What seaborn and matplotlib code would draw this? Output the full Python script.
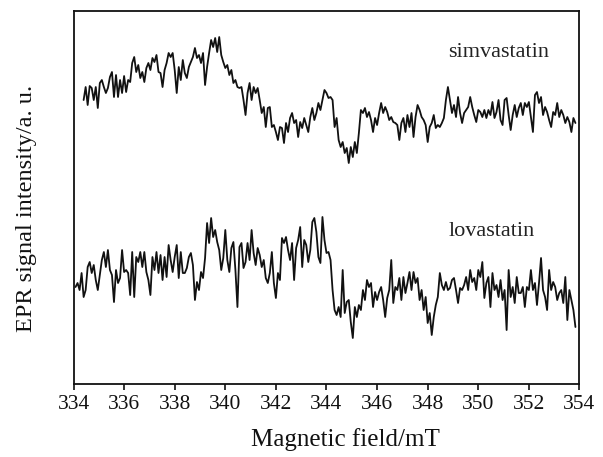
"""
plot.py

EPR spectra of simvastatin and lovastatin (signal intensity vs magnetic field).
Traces were read off the published figure point by point, so the noise is
hand-copied, not simulated.
"""

import matplotlib

matplotlib.use("Agg")  # no display, we only save the png
import matplotlib.pyplot as plt
import seaborn as sns

OUT_PATH = "out.png"

# magnetic field sweep in mT, one point every 0.08 mT
FIELD_MT = [
    334.08, 334.16, 334.24, 334.32, 334.40, 334.48, 334.56, 334.64, 334.72, 334.80, 334.88, 334.96,
    335.04, 335.12, 335.20, 335.28, 335.36, 335.44, 335.52, 335.60, 335.68, 335.76, 335.84, 335.92, 336.00,
    336.08, 336.16, 336.24, 336.32, 336.40, 336.48, 336.56, 336.64, 336.72, 336.80, 336.88, 336.96,
    337.04, 337.12, 337.20, 337.28, 337.36, 337.44, 337.52, 337.60, 337.68, 337.76, 337.84, 337.92, 338.00,
    338.08, 338.16, 338.24, 338.32, 338.40, 338.48, 338.56, 338.64, 338.72, 338.80, 338.88, 338.96,
    339.04, 339.12, 339.20, 339.28, 339.36, 339.44, 339.52, 339.60, 339.68, 339.76, 339.84, 339.92, 340.00,
    340.08, 340.16, 340.24, 340.32, 340.40, 340.48, 340.56, 340.64, 340.72, 340.80, 340.88, 340.96,
    341.04, 341.12, 341.20, 341.28, 341.36, 341.44, 341.52, 341.60, 341.68, 341.76, 341.84, 341.92, 342.00,
    342.08, 342.16, 342.24, 342.32, 342.40, 342.48, 342.56, 342.64, 342.72, 342.80, 342.88, 342.96,
    343.04, 343.12, 343.20, 343.28, 343.36, 343.44, 343.52, 343.60, 343.68, 343.76, 343.84, 343.92, 344.00,
    344.08, 344.16, 344.24, 344.32, 344.40, 344.48, 344.56, 344.64, 344.72, 344.80, 344.88, 344.96,
    345.04, 345.12, 345.20, 345.28, 345.36, 345.44, 345.52, 345.60, 345.68, 345.76, 345.84, 345.92, 346.00,
    346.08, 346.16, 346.24, 346.32, 346.40, 346.48, 346.56, 346.64, 346.72, 346.80, 346.88, 346.96,
    347.04, 347.12, 347.20, 347.28, 347.36, 347.44, 347.52, 347.60, 347.68, 347.76, 347.84, 347.92, 348.00,
    348.08, 348.16, 348.24, 348.32, 348.40, 348.48, 348.56, 348.64, 348.72, 348.80, 348.88, 348.96,
    349.04, 349.12, 349.20, 349.28, 349.36, 349.44, 349.52, 349.60, 349.68, 349.76, 349.84, 349.92, 350.00,
    350.08, 350.16, 350.24, 350.32, 350.40, 350.48, 350.56, 350.64, 350.72, 350.80, 350.88, 350.96,
    351.04, 351.12, 351.20, 351.28, 351.36, 351.44, 351.52, 351.60, 351.68, 351.76, 351.84, 351.92, 352.00,
    352.08, 352.16, 352.24, 352.32, 352.40, 352.48, 352.56, 352.64, 352.72, 352.80, 352.88, 352.96,
    353.04, 353.12, 353.20, 353.28, 353.36, 353.44, 353.52, 353.60, 353.68, 353.76, 353.84,
]

# the simvastatin record begins a little later in the sweep (at 334.40 mT)
SIM_FIRST_POINT = 4

# intensities in a.u. (the two records are stacked, simvastatin on top)
SIMVASTATIN = [
    300, 313, 295, 314, 312, 300, 313, 292, 317, 320,
    313, 307, 312, 323, 328, 303, 325, 303, 320, 307,
    324, 308, 320, 318, 337, 343, 328, 335, 322, 328,
    318, 332, 337, 330, 342, 338, 345, 328, 327,
    313, 330, 337, 347, 343, 347, 330, 307, 333, 320,
    340, 327, 322, 333, 338, 343, 352, 342, 345, 337,
    347, 315, 333, 347, 360, 353, 362, 348, 363, 345,
    338, 332, 335, 325, 330, 317, 320, 313, 312, 313,
    300, 285, 307, 317, 300, 313, 307, 312, 300, 287,
    293, 273, 292, 293, 273, 275, 268, 260, 273, 272,
    257, 277, 268, 282, 287, 277, 280, 263, 278, 272,
    282, 275, 268, 283, 292, 280, 287, 297,
    290, 300, 310, 307, 302, 303, 300, 273, 282,
    260, 253, 258, 247, 252, 237, 253, 243, 258, 247,
    267, 290, 287, 292, 283, 288, 280, 268, 282, 275,
    287, 297, 287, 293, 288, 280, 283, 278, 277, 275,
    260, 277, 282, 268, 285, 273, 287, 263, 283, 295,
    290, 283, 280, 275, 258, 273, 277, 285, 272, 275,
    273, 277, 282, 300, 313, 300, 287, 295, 283, 303,
    287, 277, 287, 290, 293, 303, 293, 285, 278, 290,
    288, 283, 290, 282, 290, 285, 298, 282, 288,
    300, 280, 275, 300, 302, 285, 270, 285, 295, 283,
    292, 297, 285, 297, 293, 298, 283, 268, 305, 308,
    297, 303, 285, 293, 288, 280, 273, 288, 285, 297,
    283, 290, 285, 277, 283, 278, 268, 282, 277,
]

LOVASTATIN = [
    113, 117, 110, 127, 103, 110, 133, 138, 127, 135,
    120, 110, 125, 140, 148, 133, 150, 130, 125, 98,
    130, 117, 122, 150, 128, 130, 127, 105, 148, 103,
    143, 138, 148, 133, 148, 128, 120, 105, 143, 130,
    148, 127, 145, 120, 143, 123, 155, 140, 128,
    143, 155, 122, 148, 127, 127, 132, 143, 147, 135,
    100, 118, 110, 128, 122, 142, 177, 157, 182, 163,
    170, 158, 150, 130, 142, 170, 140, 128, 152, 158,
    130, 93, 153, 157, 132, 138, 157, 140, 170, 147,
    135, 152, 145, 133, 140, 122, 117, 127, 148, 117,
    102, 127, 120, 162, 157, 163, 150, 140, 157, 120,
    152, 160, 173, 133, 160, 155, 138, 150, 178, 182,
    168, 143, 137,
    183, 160, 147, 148, 140, 110, 90, 85, 93, 83,
    130, 87, 98, 100, 78, 62, 93, 83, 95, 90,
    110, 100, 120, 113, 117, 93, 108, 100, 108, 113,
    100, 83, 102, 110, 140, 97, 113, 110, 122, 100,
    123, 107, 117, 128, 110, 128, 117, 122, 100,
    110, 90, 103, 77, 87, 65, 83, 95, 103, 127,
    115, 110, 118, 110, 112, 120, 122, 110, 97, 112,
    110, 115, 123, 110, 130, 118, 122, 110, 130, 123,
    138, 102, 117, 123, 93, 127, 110, 115, 103, 120,
    100, 110, 70, 130, 103, 113, 97, 123, 107, 107,
    113, 93, 113, 110, 130, 110, 117, 95, 117,
    142, 110, 103, 90, 130, 110, 118, 113, 100, 107,
    110, 97, 123, 80, 110, 100, 90, 73,
]

X_TICKS = [334, 336, 338, 340, 342, 344, 346, 348, 350, 352, 354]
SAMPLE_NAMES = ["simvastatin", "lovastatin"]
# where the sample names sit (field mT, intensity a.u.)
NAME_X = [350.8, 350.55]
NAME_Y = [343, 164]

X_LABEL = "Magnetic field/mT"
Y_LABEL = "EPR signal intensity/a. u."

sns.set_style("ticks")
plt.rcParams["font.family"] = ["Liberation Serif", "DejaVu Serif"]


def plot_spectra(ax) -> None:
    sim_field = FIELD_MT[SIM_FIRST_POINT:]
    sns.lineplot(x=sim_field, y=SIMVASTATIN, ax=ax, color="#111111", linewidth=1.3,
                 errorbar=None, estimator=None)
    sns.lineplot(x=FIELD_MT, y=LOVASTATIN, ax=ax, color="#111111", linewidth=1.3,
                 errorbar=None, estimator=None)

    for name, x, y in zip(SAMPLE_NAMES, NAME_X, NAME_Y):
        ax.text(x, y, name, ha="center", va="baseline", fontsize=16, color="#222222")

    ax.set_xlim(334, 354)
    ax.set_ylim(16, 389)
    ax.set_xticks(X_TICKS)
    ax.set_yticks([])
    ax.tick_params(axis="x", direction="out", length=4.5, width=1.2, pad=3.5,
                   labelsize=15.5, colors="#111111")

    for spine in ax.spines.values():
        spine.set_visible(True)
        spine.set_linewidth(1.3)
        spine.set_color("#111111")

    # label positions copied from the original layout
    ax.set_xlabel(X_LABEL, fontsize=18, color="#111111")
    ax.set_ylabel(Y_LABEL, fontsize=17.5, color="#111111")
    ax.xaxis.set_label_coords(0.538, -0.118)
    ax.yaxis.set_label_coords(-0.072, 0.47)


def main() -> None:
    fig = plt.figure(figsize=(6.03, 4.57), dpi=100)
    ax = fig.add_axes([0.1219, 0.1597, 0.8391, 0.8162])
    plot_spectra(ax)
    fig.savefig(OUT_PATH, dpi=100, facecolor="white")
    plt.close(fig)


if __name__ == "__main__":
    main()
